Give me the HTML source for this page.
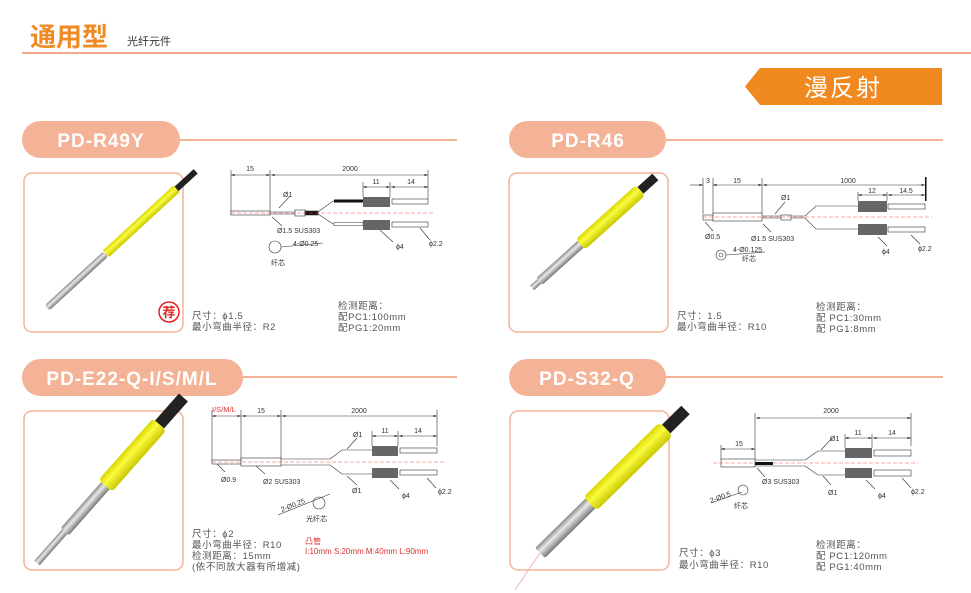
<!DOCTYPE html>
<html><head><meta charset="utf-8"><style>
html,body{margin:0;padding:0;background:#fff}
svg{display:block}
text{font-family:"Liberation Sans","Noto Sans CJK SC",sans-serif}
.s{font-size:9.5px;fill:#555;letter-spacing:0.6px}
.d{font-size:7px;fill:#333}
.pl{font-size:19px;font-weight:bold;fill:#fff;letter-spacing:1px}
</style></head><body>
<svg width="971" height="593" viewBox="0 0 971 593" xmlns="http://www.w3.org/2000/svg">
<defs>
<marker id="a" markerWidth="6" markerHeight="4" refX="6" refY="2" orient="auto-start-reverse"><path d="M0,0L6,2L0,4z" fill="#333"/></marker>
<linearGradient id="g" x1="0" y1="0" x2="0" y2="1"><stop offset="0" stop-color="#8a8a8a"/><stop offset="0.4" stop-color="#e8e8e8"/><stop offset="1" stop-color="#777"/></linearGradient>
<linearGradient id="y" x1="0" y1="0" x2="0" y2="1"><stop offset="0" stop-color="#d8d800"/><stop offset="0.4" stop-color="#fafa40"/><stop offset="1" stop-color="#c8c800"/></linearGradient>
</defs>
<!-- header -->
<text x="30" y="46" font-size="26" font-weight="bold" fill="#f08a24">通用型</text>
<text x="127" y="45" font-size="11" fill="#333">光纤元件</text>
<rect x="22" y="52" width="949" height="2" fill="#f4a98a"/>
<path d="M760,68H942V105H760L745,86.5Z" fill="#f0891f"/>
<text x="843" y="96" font-size="24" fill="#fff" text-anchor="middle" letter-spacing="2">漫反射</text>

<!-- pills -->
<g fill="#f4b396">
<rect x="22" y="121" width="158" height="37" rx="18.5"/>
<rect x="509" y="121" width="157" height="37" rx="18.5"/>
<rect x="22" y="359" width="221" height="37" rx="18.5"/>
<rect x="509" y="359" width="157" height="37" rx="18.5"/>
<rect x="180" y="139" width="277" height="2"/>
<rect x="666" y="139" width="277" height="2"/>
<rect x="243" y="376" width="214" height="2"/>
<rect x="666" y="376" width="277" height="2"/>
</g>
<text class="pl" x="101" y="147" text-anchor="middle">PD-R49Y</text>
<text class="pl" x="588" y="147" text-anchor="middle">PD-R46</text>
<text class="pl" x="132" y="385" text-anchor="middle">PD-E22-Q-I/S/M/L</text>
<text class="pl" x="587" y="385" text-anchor="middle">PD-S32-Q</text>

<!-- image boxes -->
<g fill="none" stroke="#f4b396" stroke-width="1.5">
<rect x="24" y="173" width="159" height="159" rx="8"/>
<rect x="509" y="173" width="159" height="159" rx="8"/>
<rect x="24" y="411" width="159" height="159" rx="8"/>
<rect x="510" y="411" width="159" height="159" rx="8"/>
</g>

<!-- probes -->
<g transform="translate(47,308) rotate(-42.6)">
<rect x="0" y="-3.5" width="80" height="7" rx="3" fill="url(#g)"/>
<rect x="80" y="-4.5" width="96" height="9" fill="url(#y)"/>
<rect x="176" y="-3" width="26" height="6" fill="#222"/>
</g>
<g transform="translate(532,288) rotate(-42)">
<rect x="0" y="-3" width="12" height="6" fill="url(#g)"/>
<rect x="10" y="-4.5" width="57" height="9" rx="2" fill="url(#g)"/>
<rect x="65" y="-7" width="81" height="14" rx="4" fill="url(#y)"/>
<rect x="146" y="-4.5" width="20" height="9" fill="#222"/>
</g>
<g transform="translate(37,563) rotate(-48.5)">
<rect x="0" y="-3.5" width="45" height="7" fill="url(#g)"/>
<rect x="42" y="-5.5" width="63" height="11" rx="2" fill="url(#g)"/>
<rect x="103" y="-9" width="82" height="18" rx="4" fill="url(#y)"/>
<rect x="185" y="-6" width="36" height="12" fill="#222"/>
</g>
<g transform="translate(540,553) rotate(-44.5)">
<rect x="0" y="-7" width="72" height="14" rx="2" fill="url(#g)"/>
<rect x="70" y="-9.5" width="107" height="19" rx="5" fill="url(#y)"/>
<rect x="177" y="-6" width="27" height="12" fill="#222"/>
</g>
<line x1="540" y1="553" x2="515" y2="590" stroke="#f6b0b0" stroke-width="1"/>
<circle cx="169" cy="312" r="10" fill="#fff" stroke="#e02020" stroke-width="1.5"/>
<text x="169" y="317" font-size="13" font-weight="bold" fill="#e02020" text-anchor="middle">荐</text>

<!-- Diagram R49Y -->
<g stroke="#333" stroke-width="0.6" fill="none">
<line x1="231" y1="170" x2="231" y2="215"/><line x1="270" y1="170" x2="270" y2="215"/><line x1="428" y1="170" x2="428" y2="199"/>
<line x1="231" y1="175" x2="270" y2="175" marker-start="url(#a)" marker-end="url(#a)"/>
<line x1="271" y1="175" x2="428" y2="175" marker-start="url(#a)" marker-end="url(#a)"/>
<line x1="363" y1="182" x2="363" y2="197"/><line x1="390" y1="182" x2="390" y2="197"/>
<line x1="363" y1="187" x2="390" y2="187" marker-start="url(#a)" marker-end="url(#a)"/>
<line x1="391" y1="187" x2="428" y2="187" marker-start="url(#a)" marker-end="url(#a)"/>
<rect x="231" y="211" width="39" height="4" fill="#fff"/>
<line x1="270" y1="212" x2="295" y2="212"/><line x1="270" y1="214" x2="295" y2="214"/>
<rect x="295" y="210" width="10" height="6" fill="#fff"/>
<rect x="305" y="211" width="13" height="4" fill="#111"/>
<path d="M318,212L333,201H363M318,214L333,224H363"/>
<rect x="392" y="199" width="36" height="5" fill="#fff"/><rect x="392" y="222" width="36" height="5" fill="#fff"/>
<line x1="279" y1="208" x2="290" y2="196"/><line x1="272" y1="217" x2="282" y2="226"/>
<line x1="380" y1="230" x2="393" y2="242"/><line x1="420" y1="228" x2="430" y2="240"/>
<circle cx="275" cy="247" r="6"/><line x1="281" y1="247" x2="323" y2="243"/>
</g>
<line x1="231" y1="213" x2="435" y2="213" stroke="#f05050" stroke-width="0.5" stroke-dasharray="4,2"/>
<rect x="334" y="199.5" width="29" height="3" fill="#111"/><rect x="334" y="222.5" width="29" height="3" fill="#fff" stroke="#333" stroke-width="0.5"/>
<rect x="363" y="197" width="27" height="10" fill="#666"/><rect x="363" y="220" width="27" height="10" fill="#666"/>
<text class="d" x="250" y="171" text-anchor="middle">15</text>
<text class="d" x="350" y="171" text-anchor="middle">2000</text>
<text class="d" x="376" y="184" text-anchor="middle">11</text>
<text class="d" x="411" y="184" text-anchor="middle">14</text>
<text class="d" x="283" y="197">Ø1</text>
<text class="d" x="277" y="233">Ø1.5 SUS303</text>
<text class="d" x="293" y="246">4-Ø0.25</text>
<text class="d" x="271" y="265" font-size="6">纤芯</text>
<text class="d" x="396" y="249">ϕ4</text>
<text class="d" x="429" y="246">ϕ2.2</text>

<!-- Diagram R46 -->
<g stroke="#333" stroke-width="0.6" fill="none">
<line x1="703" y1="178" x2="703" y2="214"/><line x1="713" y1="178" x2="713" y2="214"/><line x1="762" y1="178" x2="762" y2="214"/>
<line x1="690" y1="185" x2="703" y2="185" marker-end="url(#a)"/>
<line x1="713" y1="185" x2="762" y2="185" marker-start="url(#a)" marker-end="url(#a)"/>
<line x1="763" y1="185" x2="925" y2="185" marker-start="url(#a)" marker-end="url(#a)"/>
<line x1="858" y1="192" x2="858" y2="201"/><line x1="887" y1="192" x2="887" y2="201"/>
<line x1="858" y1="195" x2="887" y2="195" marker-start="url(#a)" marker-end="url(#a)"/>
<line x1="888" y1="195" x2="925" y2="195" marker-start="url(#a)" marker-end="url(#a)"/>
<rect x="703" y="215" width="10" height="5" fill="#fff"/>
<rect x="713" y="213" width="49" height="8" fill="#fff"/>
<line x1="762" y1="216" x2="781" y2="216"/><line x1="762" y1="218" x2="781" y2="218"/>
<rect x="781" y="215" width="10" height="5" fill="#fff"/>
<path d="M791,216L805,216L816,206H858M791,218L805,218L816,229H858"/>
<rect x="888" y="204" width="37" height="5" fill="#fff"/><rect x="888" y="227" width="37" height="5" fill="#fff"/>
<line x1="775" y1="214" x2="785" y2="202"/><line x1="763" y1="224" x2="771" y2="232"/><line x1="705" y1="222" x2="713" y2="231"/>
<line x1="878" y1="237" x2="887" y2="246"/><line x1="911" y1="235" x2="920" y2="244"/>
<circle cx="721" cy="255" r="5"/><circle cx="721" cy="255" r="2"/><line x1="726" y1="255" x2="765" y2="252"/>
</g>
<rect x="925" y="177" width="1.5" height="24" fill="#111"/>
<line x1="703" y1="217" x2="932" y2="217" stroke="#f05050" stroke-width="0.5" stroke-dasharray="4,2"/>
<rect x="858" y="201" width="29" height="11" fill="#666"/><rect x="858" y="224" width="29" height="11" fill="#666"/>
<text class="d" x="708" y="183" text-anchor="middle">3</text>
<text class="d" x="737" y="183" text-anchor="middle">15</text>
<text class="d" x="848" y="183" text-anchor="middle">1000</text>
<text class="d" x="872" y="193" text-anchor="middle">12</text>
<text class="d" x="906" y="193" text-anchor="middle">14.5</text>
<text class="d" x="781" y="200">Ø1</text>
<text class="d" x="705" y="239">Ø0.5</text>
<text class="d" x="751" y="241">Ø1.5 SUS303</text>
<text class="d" x="733" y="252">4-Ø0.125</text>
<text class="d" x="742" y="261" font-size="6">纤芯</text>
<text class="d" x="882" y="254">ϕ4</text>
<text class="d" x="918" y="251">ϕ2.2</text>

<!-- Diagram E22 -->
<g stroke="#333" stroke-width="0.6" fill="none">
<line x1="212" y1="410" x2="212" y2="462"/><line x1="241" y1="410" x2="241" y2="462"/><line x1="281" y1="410" x2="281" y2="462"/><line x1="437" y1="410" x2="437" y2="446"/>
<line x1="212" y1="416" x2="241" y2="416" marker-start="url(#a)" marker-end="url(#a)"/>
<line x1="242" y1="416" x2="281" y2="416" marker-start="url(#a)" marker-end="url(#a)"/>
<line x1="282" y1="416" x2="437" y2="416" marker-start="url(#a)" marker-end="url(#a)"/>
<line x1="372" y1="431" x2="372" y2="446"/><line x1="398" y1="431" x2="398" y2="446"/>
<line x1="372" y1="436" x2="398" y2="436" marker-start="url(#a)" marker-end="url(#a)"/>
<line x1="399" y1="436" x2="437" y2="436" marker-start="url(#a)" marker-end="url(#a)"/>
<rect x="212" y="460" width="29" height="4" fill="#fff"/>
<rect x="241" y="458" width="40" height="8" fill="#fff"/>
<path d="M281,459H330M281,465H330M330,459L342,450H372M330,465L342,474H372"/>
<rect x="400" y="448" width="37" height="5" fill="#fff"/><rect x="400" y="470" width="37" height="5" fill="#fff"/>
<line x1="217" y1="464" x2="225" y2="472"/><line x1="256" y1="466" x2="265" y2="474"/>
<line x1="347" y1="449" x2="357" y2="438"/><line x1="347" y1="476" x2="357" y2="485"/>
<line x1="390" y1="480" x2="399" y2="489"/><line x1="427" y1="478" x2="436" y2="488"/>
<line x1="278" y1="515" x2="330" y2="494"/><circle cx="319" cy="503" r="6"/>
</g>
<line x1="212" y1="462" x2="445" y2="462" stroke="#f05050" stroke-width="0.5" stroke-dasharray="4,2"/>
<rect x="372" y="446" width="26" height="10" fill="#666"/><rect x="372" y="468" width="26" height="10" fill="#666"/>
<text x="212" y="412" font-size="7.5" fill="#e03030">I/S/M/L</text>
<text class="d" x="261" y="413" text-anchor="middle">15</text>
<text class="d" x="359" y="413" text-anchor="middle">2000</text>
<text class="d" x="385" y="433" text-anchor="middle">11</text>
<text class="d" x="418" y="433" text-anchor="middle">14</text>
<text class="d" x="353" y="437">Ø1</text>
<text class="d" x="352" y="493">Ø1</text>
<text class="d" x="221" y="482">Ø0.9</text>
<text class="d" x="263" y="484">Ø2 SUS303</text>
<text class="d" x="282" y="512" transform="rotate(-22 282 512)">2-Ø0.25</text>
<text class="d" x="306" y="521">光纤芯</text>
<text class="d" x="402" y="498">ϕ4</text>
<text class="d" x="438" y="494">ϕ2.2</text>

<!-- Diagram S32 -->
<g stroke="#333" stroke-width="0.6" fill="none">
<line x1="755" y1="413" x2="755" y2="460"/><line x1="911" y1="413" x2="911" y2="446"/><line x1="721" y1="445" x2="721" y2="460"/>
<line x1="756" y1="418" x2="911" y2="418" marker-start="url(#a)" marker-end="url(#a)"/>
<line x1="721" y1="449" x2="755" y2="449" marker-start="url(#a)" marker-end="url(#a)"/>
<line x1="845" y1="434" x2="845" y2="448"/><line x1="872" y1="434" x2="872" y2="448"/>
<line x1="845" y1="438" x2="872" y2="438" marker-start="url(#a)" marker-end="url(#a)"/>
<line x1="873" y1="438" x2="911" y2="438" marker-start="url(#a)" marker-end="url(#a)"/>
<rect x="721" y="459" width="34" height="8" fill="#fff"/>
<path d="M755,460H805M755,466H805M805,460L818,451H845M805,466L818,475H845"/>
<rect x="874" y="450" width="37" height="6" fill="#fff"/><rect x="874" y="470" width="37" height="6" fill="#fff"/>
<line x1="757" y1="468" x2="765" y2="477"/>
<line x1="821" y1="450" x2="832" y2="438"/><line x1="823" y1="476" x2="831" y2="485"/>
<line x1="866" y1="480" x2="875" y2="489"/><line x1="902" y1="478" x2="911" y2="488"/>
<line x1="711" y1="503" x2="742" y2="492"/><circle cx="743" cy="490" r="5"/>
</g>
<line x1="713" y1="463" x2="918" y2="463" stroke="#f05050" stroke-width="0.5" stroke-dasharray="4,2"/>
<rect x="755" y="462" width="18" height="3" fill="#111"/>
<rect x="845" y="448" width="27" height="10" fill="#666"/><rect x="845" y="468" width="27" height="10" fill="#666"/>
<text class="d" x="831" y="413" text-anchor="middle">2000</text>
<text class="d" x="739" y="446" text-anchor="middle">15</text>
<text class="d" x="858" y="435" text-anchor="middle">11</text>
<text class="d" x="892" y="435" text-anchor="middle">14</text>
<text class="d" x="830" y="441">Ø1</text>
<text class="d" x="828" y="495">Ø1</text>
<text class="d" x="762" y="484">Ø3 SUS303</text>
<text class="d" x="711" y="503" transform="rotate(-20 711 503)">2-Ø0.5</text>
<text class="d" x="734" y="508" font-size="6">纤芯</text>
<text class="d" x="878" y="498">ϕ4</text>
<text class="d" x="911" y="494">ϕ2.2</text>

<!-- spec texts -->
<text class="s" x="192" y="319">尺寸：ϕ1.5</text>
<text class="s" x="192" y="330">最小弯曲半径：R2</text>
<text class="s" x="338" y="309">检测距离：</text>
<text class="s" x="338" y="320">配PC1:100mm</text>
<text class="s" x="338" y="331">配PG1:20mm</text>

<text class="s" x="677" y="319">尺寸：1.5</text>
<text class="s" x="677" y="330">最小弯曲半径：R10</text>
<text class="s" x="816" y="310">检测距离：</text>
<text class="s" x="816" y="321">配 PC1:30mm</text>
<text class="s" x="816" y="332">配 PG1:8mm</text>

<text class="s" x="192" y="537">尺寸：ϕ2</text>
<text class="s" x="192" y="548">最小弯曲半径：R10</text>
<text class="s" x="192" y="559">检测距离：15mm</text>
<text class="s" x="192" y="570">(依不同放大器有所增减)</text>
<text x="305" y="544" font-size="8" fill="#e03030">凸管</text>
<text x="305" y="554" font-size="8" fill="#e03030">I:10mm  S:20mm  M:40mm  L:90mm</text>

<text class="s" x="679" y="556">尺寸：ϕ3</text>
<text class="s" x="679" y="568">最小弯曲半径：R10</text>
<text class="s" x="816" y="548">检测距离：</text>
<text class="s" x="816" y="559">配 PC1:120mm</text>
<text class="s" x="816" y="570">配 PG1:40mm</text>
</svg>
</body></html>
